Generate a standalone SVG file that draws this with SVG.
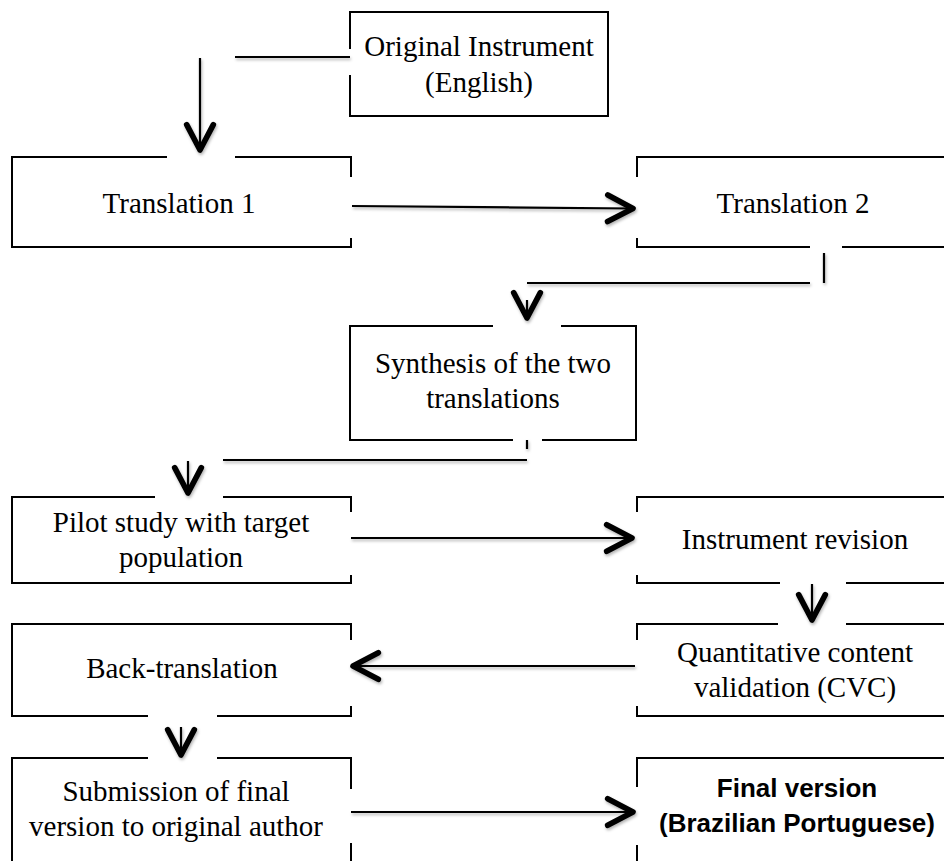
<svg xmlns="http://www.w3.org/2000/svg" width="944" height="861" viewBox="0 0 944 861">
<style>
.b{fill:none;stroke:#000;stroke-width:2}
.c{fill:none;stroke:#000;stroke-width:2.2}
.t{font-family:"Liberation Serif","Times New Roman",serif;font-size:29px;fill:#000;text-anchor:middle}
.tb{font-family:"Liberation Sans",Arial,sans-serif;font-size:26px;font-weight:bold;fill:#000;text-anchor:middle}
</style>
<defs>
<marker id="ah" markerUnits="userSpaceOnUse" markerWidth="40" markerHeight="40" viewBox="-25 -15 30 30" refX="0" refY="0" orient="auto" overflow="visible">
<path d="M-19,-10 L0,0 L-19,10" fill="none" stroke="#000" stroke-width="4.2" stroke-linejoin="round" stroke-linecap="round"/>
</marker>
<filter id="sh" x="-10%" y="-50%" width="120%" height="200%">
<feDropShadow dx="1" dy="2" stdDeviation="1.5" flood-color="#000" flood-opacity="0.3"/>
</filter>
</defs>
<rect width="944" height="861" fill="#fff"/>

<g id="original">
<path class="b" d="M350,49 V12 H608 V116 H350 V75"/>
<text class="t" x="479" y="56">Original Instrument</text>
<text class="t" x="479" y="92">(English)</text>
</g>

<g id="translation1">
<path class="b" d="M167,157 H12 V247 H351 V238 M351,177 V157 H235"/>
<text class="t" x="179" y="213">Translation 1</text>
</g>

<g id="translation2">
<path class="b" d="M637,177 V157 H952 M637,238 V247 H810 M842,247 H952"/>
<text class="t" x="793" y="213">Translation 2</text>
</g>

<g id="synthesis">
<path class="b" d="M493,326 H350 V440 H513 M542,440 H636 V326 H561"/>
<text class="t" x="493" y="373">Synthesis of the two</text>
<text class="t" x="493" y="408">translations</text>
</g>

<g id="pilot">
<path class="b" d="M155,497 H12 V583 H351 V575 M351,512 V497 H223"/>
<text class="t" x="181" y="532">Pilot study with target</text>
<text class="t" x="181" y="567">population</text>
</g>

<g id="revision">
<path class="b" d="M637,512 V497 H952 M637,575 V583 H780 M846,583 H952"/>
<text class="t" x="795" y="549">Instrument revision</text>
</g>

<g id="backtranslation">
<path class="b" d="M148,716 H12 V624 H351 V640 M351,706 V716 H217"/>
<text class="t" x="182" y="678">Back-translation</text>
</g>

<g id="cvc">
<path class="b" d="M778,624 H637 V640 M637,706 V716 H952 M846,624 H952"/>
<text class="t" x="795" y="662">Quantitative content</text>
<text class="t" x="795" y="697">validation (CVC)</text>
</g>

<g id="submission">
<path class="b" d="M148,758 H12 V870 M351,870 V843 M351,789 V758 H217"/>
<text class="t" x="176" y="801">Submission of final</text>
<text class="t" x="176" y="836">version to original author</text>
</g>

<g id="final">
<path class="b" d="M637,870 V845 M637,787 V758 H952"/>
<text class="tb" x="797" y="797">Final version</text>
<text class="tb" x="797" y="832">(Brazilian Portuguese)</text>
</g>

<g id="connectors" filter="url(#sh)">
<path class="c" d="M350,57 H235"/>
<path class="c" d="M200,58 V150" marker-end="url(#ah)"/>
<path class="c" d="M352,206 L633,208.5" marker-end="url(#ah)"/>
<path class="c" d="M824,253 V283 M810,283 H527"/>
<path class="c" d="M527,300 V318" marker-end="url(#ah)"/>
<path class="c" d="M527,440 V449 M527,460 H223"/>
<path class="c" d="M188,461 V493" marker-end="url(#ah)"/>
<path class="c" d="M351,538 H632" marker-end="url(#ah)"/>
<path class="c" d="M812,584 V620" marker-end="url(#ah)"/>
<path class="c" d="M635,666 H353" marker-end="url(#ah)"/>
<path class="c" d="M181,727 V755" marker-end="url(#ah)"/>
<path class="c" d="M351,812 H633" marker-end="url(#ah)"/>
</g>
</svg>
